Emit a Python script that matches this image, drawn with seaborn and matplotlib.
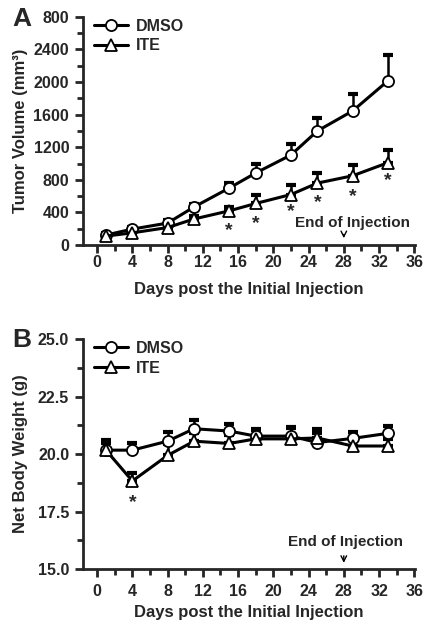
import matplotlib.pyplot as plt
import seaborn as sns
import numpy as np

# ---- data ----
days = [1, 4, 8, 11, 15, 18, 22, 25, 29, 33]

vol_dmso = [123, 196, 270, 467, 700, 884, 1105, 1400, 1645, 2014]
vol_dmso_err = [30, 30, 40, 40, 60, 110, 140, 160, 210, 320]
vol_ite = [110, 150, 215, 320, 420, 510, 620, 760, 850, 1010]
vol_ite_err = [20, 25, 30, 40, 50, 100, 120, 130, 130, 150]
vol_star_days = [15, 18, 22, 25, 29, 33]
vol_star_y = [258, 344, 490, 600, 675, 872]

bw_dmso = [20.17, 20.17, 20.56, 21.1, 21.0, 20.78, 20.78, 20.5, 20.68, 20.9]
bw_dmso_err = [0.3, 0.3, 0.4, 0.37, 0.3, 0.3, 0.35, 0.4, 0.3, 0.3]
bw_ite = [20.17, 18.83, 19.94, 20.56, 20.46, 20.66, 20.66, 20.7, 20.35, 20.35]
bw_ite_err = [0.45, 0.35, 0.5, 0.35, 0.35, 0.4, 0.5, 0.4, 0.35, 0.3]
bw_star_days = [4]
bw_star_y = [18.15]

vol_ticks = [0, 400, 800, 1200, 1600, 2000, 2400, 2800]
vol_ticklabels = ['0', '400', '800', '1200', '1600', '2000', '2400', '800']
bw_ticks = [15.0, 17.5, 20.0, 22.5, 25.0]
day_ticks = list(range(0, 37, 4))

sns.set_style('ticks')
plt.rcParams['font.family'] = ['Liberation Sans', 'DejaVu Sans']
plt.rcParams['font.weight'] = 'bold'
plt.rcParams['axes.labelweight'] = 'bold'

fig = plt.figure(figsize=(4.28, 6.22), dpi=100)
axA = fig.add_axes([0.194, 0.606, 0.776, 0.367])
axB = fig.add_axes([0.194, 0.085, 0.776, 0.370])

mk = dict(markerfacecolor='white', markeredgecolor='black',
          markeredgewidth=1.3, markersize=8, linewidth=2.2)


def draw_panel(ax, y1, e1, y2, e2):
    ax.errorbar(days, y1, yerr=[np.zeros(len(e1)), e1], fmt='none',
                ecolor='black', elinewidth=1.8, capsize=3.5, capthick=3, zorder=1)
    ax.errorbar(days, y2, yerr=[np.zeros(len(e2)), e2], fmt='none',
                ecolor='black', elinewidth=1.8, capsize=3.5, capthick=3, zorder=1)
    sns.lineplot(x=days, y=y1, ax=ax, color='black', marker='o', label='DMSO', **mk)
    sns.lineplot(x=days, y=y2, ax=ax, color='black', marker='^', label='ITE', **mk)


def style_axes(ax, xpad):
    sns.despine(ax=ax)
    for s in ['left', 'bottom']:
        ax.spines[s].set_linewidth(2)
    ax.tick_params(which='major', direction='out', length=6, width=2, labelsize=11.5)
    ax.tick_params(which='minor', direction='out', length=4, width=2)
    ax.tick_params(axis='x', pad=xpad)
    ax.tick_params(axis='y', pad=4)
    ax.set_xlim(-1.6, 36.1)
    ax.set_xticks(day_ticks)
    ax.set_xticks(list(range(2, 36, 4)), minor=True)
    for t in ax.get_xticklabels() + ax.get_yticklabels():
        t.set_fontweight('bold')
    leg = ax.legend(loc='upper left', frameon=False, handlelength=2.1,
                    handletextpad=0.5, fontsize=11.5, borderaxespad=0.0,
                    labelspacing=0.3, bbox_to_anchor=(0.015, 1.02))
    for t in leg.get_texts():
        t.set_fontweight('bold')


def stars(ax, xs, ys):
    for d, y in zip(xs, ys):
        ax.annotate('*', (d, y), xytext=(0, -4.5), textcoords='offset points',
                    ha='center', va='center', fontsize=14, fontweight='bold')


# ---- Panel A ----
draw_panel(axA, vol_dmso, vol_dmso_err, vol_ite, vol_ite_err)
style_axes(axA, xpad=1)
axA.set_ylim(0, 2800)
axA.set_yticks(vol_ticks)
axA.set_yticklabels(vol_ticklabels, fontweight='bold')
axA.set_yticks(list(range(200, 2800, 400)), minor=True)
axA.set_ylabel('Tumor Volume (mm³)', fontsize=12, fontweight='bold')
axA.yaxis.set_label_coords(-0.165, 0.5)
axA.set_xlabel('Days post the Initial Injection', fontsize=12, fontweight='bold', labelpad=9)
stars(axA, vol_star_days, vol_star_y)
axA.text(29, 270, 'End of Injection', ha='center', va='center', fontsize=11, fontweight='bold')
axA.annotate('', xy=(28, 50), xytext=(28, 165),
             arrowprops=dict(arrowstyle='->', lw=1, color='black'))
fig.text(0.028, 0.988, 'A', fontsize=19, fontweight='bold', va='top')

# ---- Panel B ----
draw_panel(axB, bw_dmso, bw_dmso_err, bw_ite, bw_ite_err)
style_axes(axB, xpad=5)
axB.set_ylim(15, 25)
axB.set_yticks(bw_ticks)
axB.set_yticklabels([f'{v:.1f}' for v in bw_ticks], fontweight='bold')
axB.set_yticks([16.25, 18.75, 21.25, 23.75], minor=True)
axB.set_ylabel('Net Body Weight (g)', fontsize=12, fontweight='bold')
axB.yaxis.set_label_coords(-0.165, 0.5)
axB.set_xlabel('Days post the Initial Injection', fontsize=12, fontweight='bold', labelpad=4)
stars(axB, bw_star_days, bw_star_y)
axB.text(28.2, 16.2, 'End of Injection', ha='center', va='center', fontsize=11, fontweight='bold')
axB.annotate('', xy=(28, 15.15), xytext=(28, 15.7),
             arrowprops=dict(arrowstyle='->', lw=1, color='black'))
fig.text(0.028, 0.473, 'B', fontsize=19, fontweight='bold', va='top')

fig.savefig('out.png', dpi=100)
